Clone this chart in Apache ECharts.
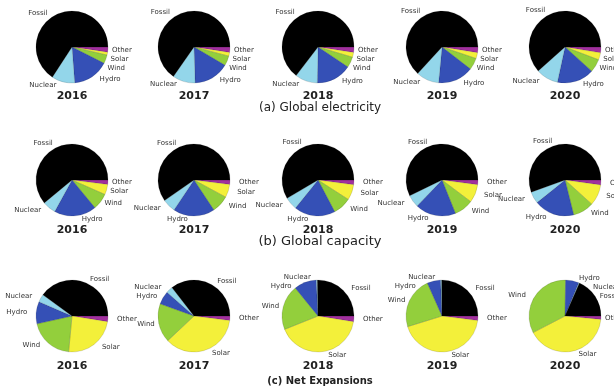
<!DOCTYPE html>
<html>
<head>
<meta charset="utf-8">
<script src="https://cdn.jsdelivr.net/npm/echarts@6/dist/echarts.min.js"></script>
<style>
  html, body { margin: 0; padding: 0; background: #fff; }
  #chart { width: 614px; height: 390px; }
</style>
</head>
<body>
<div id="chart"></div>
<script>
// slice order runs clockwise from 3 o'clock
var sources = ['Other', 'Solar', 'Wind', 'Hydro', 'Nuclear', 'Fossil'];
var years = ['2016', '2017', '2018', '2019', '2020'];
var captions = ['(a) Global electricity', '(b) Global capacity', '(c) Net Expansions'];

// shares in %, one row per year
var electricity = [
  [2.3, 1.3, 3.9, 16.3, 10.4, 65.8],
  [2.4, 1.7, 4.4, 16.0, 10.2, 65.3],
  [2.4, 2.2, 4.8, 15.9, 10.1, 64.6],
  [2.5, 2.7, 5.3, 16.0, 10.3, 63.2],
  [2.6, 3.2, 5.9, 16.7, 10.0, 61.6]
];
var capacity = [
  [2.0, 4.6, 7.4, 19.0, 6.0, 61.0],
  [2.0, 5.9, 7.8, 18.7, 5.9, 59.7],
  [2.1, 7.0, 8.2, 18.5, 5.7, 58.5],
  [2.1, 8.2, 8.6, 18.3, 5.6, 57.2],
  [2.2, 9.5, 9.4, 18.1, 5.3, 55.5]
];
var netExpansions = [
  [2.5, 24.0, 20.0, 10.0, 3.5, 40.0],
  [2.0, 36.0, 17.5, 6.0, 3.0, 35.5],
  [2.5, 41.0, 20.0, 10.0, 0.5, 25.0],
  [2.0, 43.0, 23.0, 6.0, 0.5, 25.0],
  [1.5, 41.0, 33.0, 6.0, 0.3, 18.5]
];

var colors = {
  Other: '#a1309e',
  Solar: '#f3f03a',
  Wind: '#93cf3c',
  Hydro: '#3550b6',
  Nuclear: '#93d6ea',
  Fossil: '#000000'
};

var rows = [electricity, capacity, netExpansions];
var colX = [72, 194, 318, 442, 565];
var rowY = [47, 180, 316];
var yearY = [97, 231, 367];
var captionY = [108, 242, 381];
var captionSize = [12, 13, 10];

var series = [];
var titles = [];
rows.forEach(function(rowData, r) {
  rowData.forEach(function(vals, c) {
    series.push({
      type: 'pie',
      center: [colX[c], rowY[r]],
      radius: 36,
      startAngle: 0,
      clockwise: true,
      avoidLabelOverlap: true,
      minShowLabelAngle: 0,
      silent: true,
      itemStyle: { borderColor: 'rgba(0,0,0,0.25)', borderWidth: 0.5 },
      label: {
        show: true,
        position: 'outside',
        fontSize: 7,
        color: '#333',
        overflow: 'none',
        fontFamily: 'DejaVu Sans'
      },
      labelLine: { show: false, length: 3, length2: 1 },
      labelLayout: { hideOverlap: false },
      data: sources.map(function(s, i) {
        return { name: s, value: vals[i], itemStyle: { color: colors[s] } };
      })
    });
    titles.push({
      text: years[c],
      left: colX[c],
      top: yearY[r] - 6,
      padding: 0,
      textAlign: 'center',
      textStyle: { fontSize: 11, fontWeight: 'bold', color: '#222', fontFamily: 'DejaVu Sans' }
    });
  });
  titles.push({
    text: captions[r],
    left: 320,
    top: captionY[r] - captionSize[r] / 2,
    padding: 0,
    textAlign: 'center',
    textStyle: { fontSize: captionSize[r], fontWeight: r === 2 ? 'bold' : 'normal', color: '#222', fontFamily: 'DejaVu Sans' }
  });
});

var chart = echarts.init(document.getElementById('chart'));
chart.setOption({
  animation: false,
  title: titles,
  series: series
});
</script>
</body>
</html>
